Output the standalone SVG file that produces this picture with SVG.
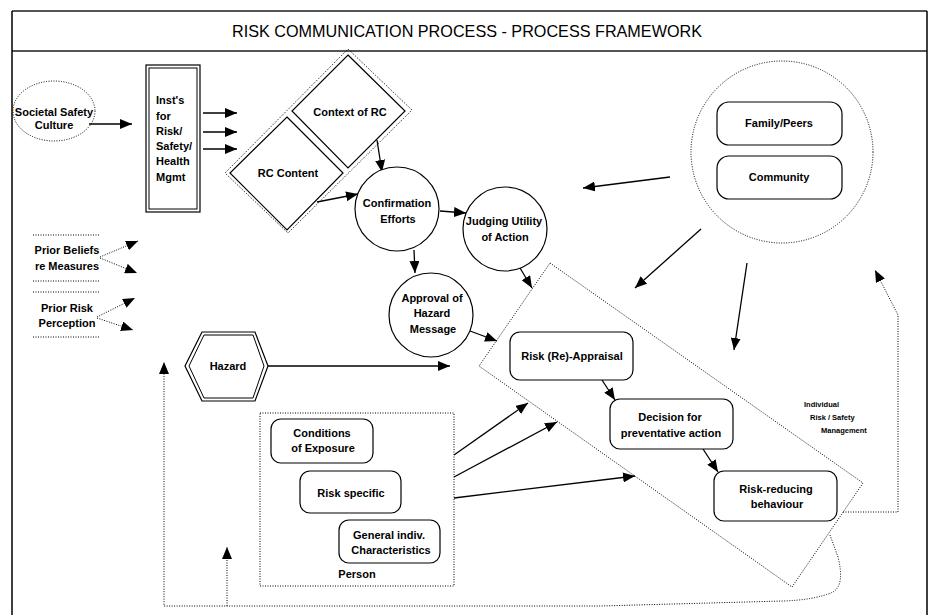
<svg xmlns="http://www.w3.org/2000/svg" width="931" height="615" viewBox="0 0 931 615">
<defs>
<marker id="ah" viewBox="0 0 12 10" refX="12" refY="5" markerWidth="12" markerHeight="10" markerUnits="userSpaceOnUse" orient="auto"><path d="M0,0 L12,5 L0,10 z" fill="#000"/></marker>
</defs>
<style>
text{font-family:"Liberation Sans",Arial,sans-serif;font-weight:bold;font-size:11px;fill:#000;text-anchor:middle}
.t{font-weight:normal;font-size:17px}
.sm{font-size:7.5px;text-anchor:start}
.l{text-anchor:start}
.sol{fill:#fff;stroke:#000;stroke-width:1.2}
.dot{fill:none;stroke:#000;stroke-width:1;stroke-dasharray:1,1.5}
.ln{fill:none;stroke:#000;stroke-width:1.3}
.arr{fill:none;stroke:#000;stroke-width:1.3;marker-end:url(#ah)}
.darr{fill:none;stroke:#000;stroke-width:1;stroke-dasharray:1,1.5;marker-end:url(#ah)}
</style>
<rect width="931" height="615" fill="#fff"/>
<g id="frame">
<line x1="12" y1="11" x2="927" y2="11" stroke="#555" stroke-width="2"/>
<line x1="12" y1="51" x2="927" y2="51" stroke="#555" stroke-width="2"/>
<line x1="12" y1="11" x2="12" y2="615" stroke="#000" stroke-width="1.5"/>
<line x1="927" y1="11" x2="927" y2="615" stroke="#000" stroke-width="1.5"/>
<text class="t" x="467" y="37" textLength="470" lengthAdjust="spacingAndGlyphs">RISK COMMUNICATION PROCESS - PROCESS FRAMEWORK</text>
</g>
<g id="connectors">
<line class="arr" x1="89" y1="124" x2="132" y2="124"/>
<line class="arr" x1="203" y1="113" x2="237" y2="113"/>
<line class="arr" x1="203" y1="132" x2="237" y2="132"/>
<line class="arr" x1="203" y1="149" x2="237" y2="149"/>
<line class="arr" x1="377" y1="140" x2="382" y2="172"/>
<line class="arr" x1="317" y1="202" x2="358" y2="194"/>
<line class="arr" x1="440" y1="211" x2="466" y2="213"/>
<line class="arr" x1="414" y1="250" x2="415" y2="273"/>
<line class="arr" x1="520" y1="268" x2="532" y2="288"/>
<line class="arr" x1="470" y1="331" x2="497" y2="341"/>
<line class="arr" x1="268" y1="366" x2="450" y2="366"/>
<line class="arr" x1="670" y1="177" x2="583" y2="188"/>
<line class="arr" x1="701" y1="229" x2="635" y2="288"/>
<line class="arr" x1="747" y1="263" x2="734" y2="350"/>
<line class="arr" x1="454" y1="455" x2="528" y2="403"/>
<line class="arr" x1="454" y1="477" x2="557" y2="422"/>
<line class="arr" x1="454" y1="498" x2="635" y2="476"/>
<line class="arr" x1="602" y1="380" x2="615" y2="400"/>
<line class="arr" x1="703" y1="449" x2="718" y2="472"/>
<line class="darr" x1="100" y1="257" x2="138" y2="241"/>
<line class="darr" x1="100" y1="258" x2="137" y2="273"/>
<line class="darr" x1="97" y1="317" x2="135" y2="298"/>
<line class="darr" x1="97" y1="318" x2="133" y2="330"/>
<polyline class="darr" points="843,512 898,512 898,315 875,270"/>
<path class="darr" d="M830,535 L838,557 Q845,585 833,592 Q815,600 783,601 L600,606 L164,606 L164,362"/>
<line class="darr" x1="227" y1="606" x2="227" y2="547"/>
</g>
<g id="societal-safety-culture">
<ellipse class="dot" cx="54" cy="111" rx="41" ry="30"/>
<text x="54" y="116">Societal Safety</text>
<text x="54" y="129">Culture</text>
</g>
<g id="institutions">
<rect class="sol" x="146" y="65" width="54" height="147"/>
<rect fill="none" stroke="#000" stroke-width="1" x="149" y="68" width="48" height="141"/>
<text class="l" x="156" y="104">Inst's</text>
<text class="l" x="156" y="120">for</text>
<text class="l" x="156" y="135">Risk/</text>
<text class="l" x="156" y="150">Safety/</text>
<text class="l" x="156" y="165">Health</text>
<text class="l" x="156" y="181">Mgmt</text>
</g>
<g id="rc-group">
<polygon class="dot" points="348,49 412,110 288,233 225,173"/>
</g>
<g id="context-of-rc">
<polygon class="sol" points="348,55 405,111 348,168 292,111"/>
<text x="350" y="116">Context of RC</text>
</g>
<g id="rc-content">
<polygon class="sol" points="287,117 343,173 287,230 230,173"/>
<text x="288" y="177">RC Content</text>
</g>
<g id="confirmation-efforts">
<circle class="sol" cx="397" cy="209" r="42"/>
<text x="397" y="207">Confirmation</text>
<text x="398" y="223">Efforts</text>
</g>
<g id="judging-utility">
<circle class="sol" cx="505" cy="229" r="42"/>
<text x="504" y="225">Judging Utility</text>
<text x="505" y="241">of Action</text>
</g>
<g id="approval">
<circle class="sol" cx="431" cy="315" r="42"/>
<text x="432" y="302">Approval of</text>
<text x="432" y="317">Hazard</text>
<text x="433" y="333">Message</text>
</g>
<g id="prior-beliefs">
<line class="dot" x1="33" y1="235" x2="100" y2="235"/>
<line class="dot" x1="33" y1="281" x2="100" y2="281"/>
<text x="67" y="254">Prior Beliefs</text>
<text x="67" y="270">re Measures</text>
</g>
<g id="prior-risk">
<line class="dot" x1="33" y1="292" x2="100" y2="292"/>
<line class="dot" x1="33" y1="337" x2="100" y2="337"/>
<text x="67" y="312">Prior Risk</text>
<text x="67" y="327">Perception</text>
</g>
<g id="hazard">
<polygon class="sol" points="185,366 202,332 255,332 268,366 255,401 202,401"/>
<polygon fill="none" stroke="#000" stroke-width="1" points="189,366 204,335 253,335 264,366 253,398 204,398"/>
<text x="228" y="370">Hazard</text>
</g>
<g id="social-environment">
<circle class="dot" cx="782" cy="152" r="91"/>
</g>
<g id="family-peers">
<rect class="sol" x="717" y="102" width="125" height="43" rx="12"/>
<text x="779" y="127">Family/Peers</text>
</g>
<g id="community">
<rect class="sol" x="717" y="156" width="125" height="43" rx="12"/>
<text x="779" y="181">Community</text>
</g>
<g id="individual-management">
<polygon class="dot" points="550,263 863,483 792,587 479,366"/>
<text class="sm" x="804" y="407">Individual</text>
<text class="sm" x="810" y="420">Risk / Safety</text>
<text class="sm" x="821" y="433">Management</text>
</g>
<g id="risk-appraisal">
<rect class="sol" x="510" y="332" width="123" height="48" rx="10"/>
<text x="572" y="360">Risk (Re)-Appraisal</text>
</g>
<g id="decision">
<rect class="sol" x="610" y="399" width="123" height="50" rx="10"/>
<text x="670" y="421">Decision for</text>
<text x="671" y="437">preventative action</text>
</g>
<g id="risk-reducing">
<rect class="sol" x="714" y="471" width="123" height="50" rx="10"/>
<text x="776" y="493">Risk-reducing</text>
<text x="777" y="508">behaviour</text>
</g>
<g id="person">
<rect class="dot" x="260" y="413" width="194" height="173"/>
<text x="357" y="578">Person</text>
</g>
<g id="conditions-of-exposure">
<rect class="sol" x="271" y="419" width="102" height="44" rx="10"/>
<text x="322" y="437">Conditions</text>
<text x="323" y="452">of Exposure</text>
</g>
<g id="risk-specific">
<rect class="sol" x="300" y="471" width="101" height="42" rx="10"/>
<text x="351" y="497">Risk specific</text>
</g>
<g id="general-characteristics">
<rect class="sol" x="339" y="520" width="101" height="43" rx="10"/>
<text x="389" y="539">General indiv.</text>
<text x="391" y="554">Characteristics</text>
</g>
</svg>
